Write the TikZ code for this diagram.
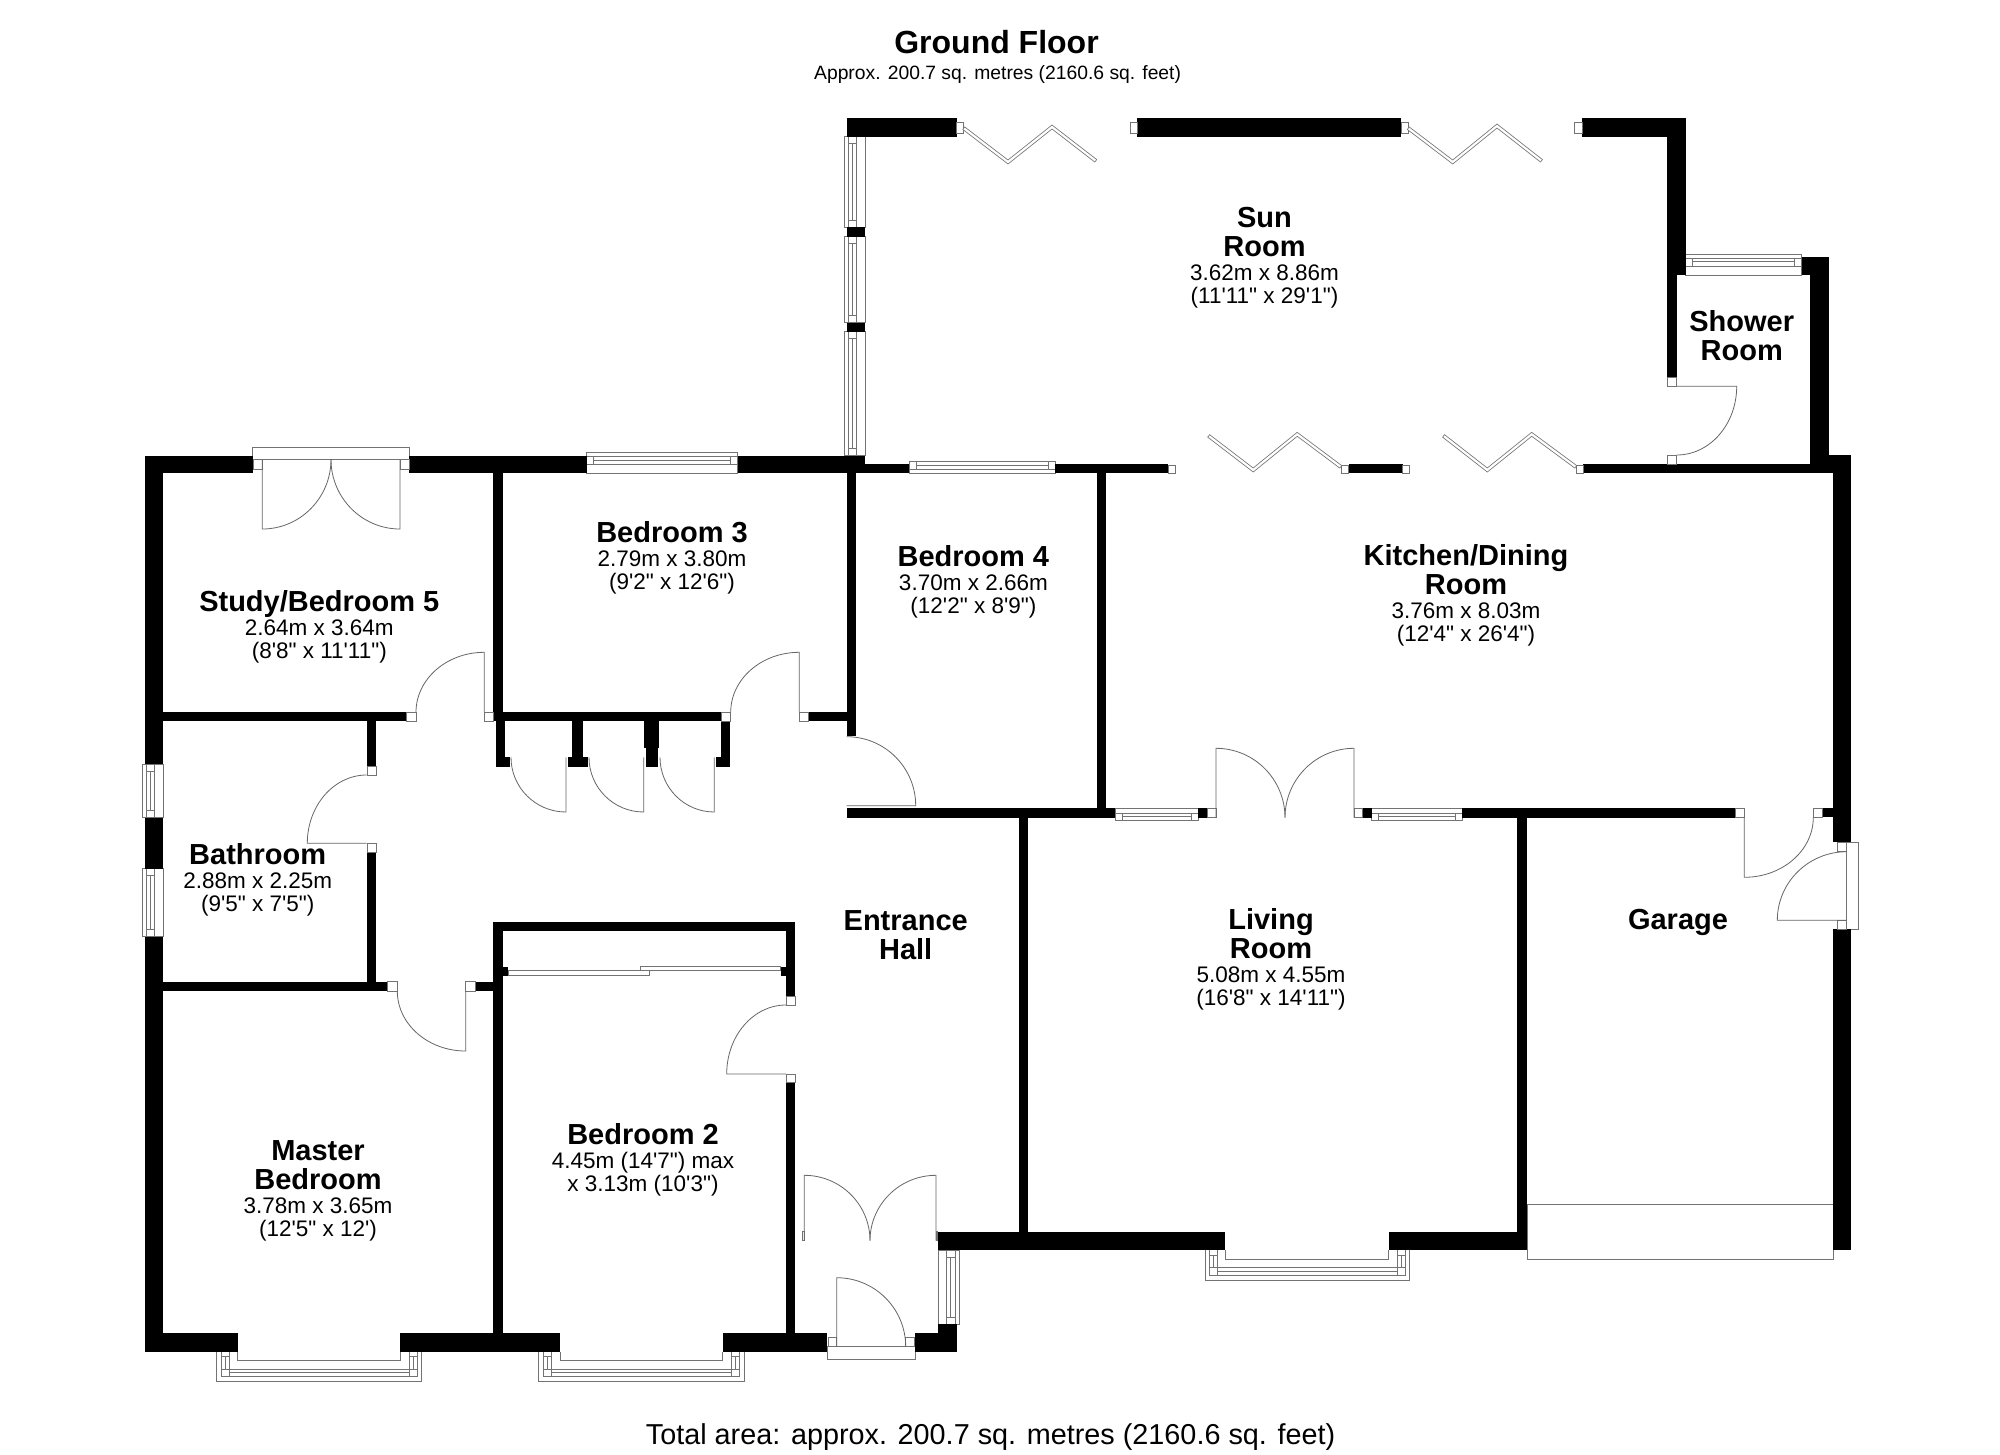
\documentclass[tikz,border=0pt]{standalone}
\usepackage{fontspec}
\usetikzlibrary{calc}
\newfontfamily\planfont{Liberation Sans}
\setlength{\lineskiplimit}{-100pt}
\newcommand\rmname[1]{{\fontsize{29}{23}\selectfont\bfseries #1}}
\newcommand\planswing[6]{\draw[doorline] (#1,#2) -- (#3,#4) .. controls ($(#3,#4)+0.5523*(#5,#6)-0.5523*(#1,#2)$) and ($(#5,#6)+0.5523*(#3,#4)-0.5523*(#1,#2)$) .. (#5,#6);}
\newcommand\planbifold[1]{\draw[bifoldout] #1; \draw[bifoldin] #1;}
% horizontal window: x1 x2 y0 y1 ym y2 y3
\newcommand\planhwin[7]{%
  \filldraw[glaze] (#1,#3) rectangle (#2,#7);
  \draw[glaze] (#1,#4) -- (#2,#4) (#1,#6) -- (#2,#6);
  \draw[glaze] ({#1+7},#4) -- ({#1+7},#6) ({#2-7},#4) -- ({#2-7},#6) ({#1+7},#5) -- ({#2-7},#5);}
% vertical window: y1 y2 x0 x1 xm x2 x3
\newcommand\planvwin[7]{%
  \filldraw[glaze] (#3,#1) rectangle (#7,#2);
  \draw[glaze] (#4,#1) -- (#4,#2) (#6,#1) -- (#6,#2);
  \draw[glaze] (#4,{#1+7}) -- (#6,{#1+7}) (#4,{#2-7}) -- (#6,{#2-7}) (#5,{#1+7}) -- (#5,{#2-7});}
% bay window: a b i j y
\newcommand\planbay[5]{%
  \draw[glaze] (#1,#5) -- (#1,{#5+30}) -- (#2,{#5+30}) -- (#2,#5);
  \draw[glaze] ({#1+4.5},#5) -- ({#1+4.5},{#5+25}) -- ({#2-4.5},{#5+25}) -- ({#2-4.5},#5);
  \draw[glaze] (#3,#5) -- (#3,{#5+9}) -- (#4,{#5+9}) -- (#4,#5);
  \draw[glaze] ({#1+4.5},{#5+17.6}) -- ({#2-4.5},{#5+17.6}) ({#1+12.5},{#5+21}) -- ({#2-12.5},{#5+21});
  \draw[glaze] ({#1+12.5},#5) -- ({#1+12.5},{#5+25}) ({#2-12.5},#5) -- ({#2-12.5},{#5+25});
  \draw[glaze] ({#1+4.5},{#5+5}) -- ({#1+12.5},{#5+5}) ({#2-12.5},{#5+5}) -- ({#2-4.5},{#5+5});
  \draw[glaze] ({#1+8.5},{#5+5}) -- ({#1+8.5},{#5+17.6}) ({#2-8.5},{#5+5}) -- ({#2-8.5},{#5+17.6});}
\tikzset{
  wallfill/.style={fill=black,draw=none},
  jambbox/.style={fill=white,draw=black!55,line width=0.8pt},
  glaze/.style={fill=white,draw=black!55,line width=0.8pt},
  doorline/.style={draw=black!60,line width=0.8pt,fill=none},
  bifoldout/.style={draw=black!55,line width=3.8pt},
  bifoldin/.style={draw=white,line width=2.2pt,shorten <=0.8pt,shorten >=0.8pt},
  room/.style={align=center,inner sep=0pt,text=black,
    font=\planfont\fontsize{22.5}{23}\selectfont},
}
\begin{document}
\begin{tikzpicture}[x=1pt,y=-1pt]
\useasboundingbox[fill=white] (0,0) rectangle (2000,1454);

% windows
\planvwin{136.7}{227.3}{844}{848.7}{852.5}{856.4}{865.2}
\planvwin{236.7}{322.7}{844}{848.7}{852.5}{856.4}{865.2}
\planvwin{331.7}{455.3}{844}{848.7}{852.5}{856.4}{865.2}
\planvwin{764}{817.7}{142}{146.7}{150}{154}{163.3}
\planvwin{868.7}{936.7}{142}{146.7}{150}{154}{163.3}
\planvwin{1250}{1324}{938.3}{946.7}{950}{955}{959.3}
\planhwin{586.7}{737.7}{452.3}{456.7}{460}{464}{473.3}
\planhwin{909.2}{1055.4}{461}{461}{465}{469}{473.3}
\planhwin{1685.7}{1801.7}{254}{258.3}{261.7}{266}{275}
\planhwin{1115}{1198.3}{808.3}{813.3}{816.7}{820}{820}
\planhwin{1371.7}{1462.3}{808.3}{813.3}{816.7}{820}{820}
\planbay{216.7}{421.7}{237.7}{400.3}{1351.7}
\planbay{538.7}{744.3}{560}{722.7}{1351.7}
\planbay{1204.9}{1409.6}{1225.3}{1388.5}{1250}

% door frames and garage door
\filldraw[jambbox] (1527,1204.3) rectangle (1833,1259.3);
\filldraw[jambbox] (252.7,447.7) rectangle (409,459.3);
\filldraw[jambbox] (827.3,1346.7) rectangle (915,1359.3);
\filldraw[jambbox] (1846.7,842.3) rectangle (1858.3,929.3);
\filldraw[jambbox] (802,1231.7) rectangle (804.3,1240.7);
\filldraw[jambbox] (936,1231.7) rectangle (937.7,1240.7);
\filldraw[jambbox] (508.3,970.7) rectangle (649,975.3);
\filldraw[jambbox] (640,966) rectangle (780.7,970.7);

% walls
\foreach \a/\b/\c/\d in {
  846.8/118.3/956.6/137, 1137/118.3/1401/137, 1582/118.3/1685.7/137,
  1667.3/118.3/1685.7/275, 1667.3/275/1676.7/377.3,
  846.8/227.3/865.2/236.7, 846.8/322.7/865.2/331.7,
  1801.7/256.7/1829/275, 1810.3/256.7/1829/464.3,
  1583/464.3/1851/473.3, 1810.3/455.3/1851/473.3,
  1832.7/455.3/1851/842.3, 1832.7/929.3/1851/1250, 1822.7/808.3/1832.7/817.3,
  145/455.7/253.3/473.3, 409/455.7/586.7/473.3, 737.7/455.7/865/473.3,
  865/464.3/909.2/473.3, 1055.4/464.3/1168.3/473.3, 1348.5/464.3/1402.5/473.3,
  145/455.7/163.3/764, 145/817.7/163.3/868.7, 145/936.7/163.3/1351.7,
  145/1333.3/237.7/1351.7, 400.3/1333.3/560/1351.7, 722.7/1333.3/827.3/1351.7,
  915/1333.3/956.7/1351.7, 938.3/1324/956.7/1333.3,
  163.3/712.3/406.7/721, 367/721/376.3/766, 367/852.7/376.3/981.7,
  163.3/981.7/387.7/991, 475/981.7/493.3/991,
  493.3/473.3/502.7/712.3,
  493.3/921.7/502.7/1333.3, 493.3/921.7/795.3/930.7, 786/921.7/795.3/996.7,
  786/1082.7/795.3/1333.3, 502.7/966.7/508.3/976, 780.7/966.7/786/976,
  493.3/712.3/721.7/721.3,
  495.7/721/505/766.7, 495.7/757.3/510/766.7,
  571.7/721/583.3/757.3, 567.7/757.3/587.7/766.7,
  644.3/721/659.3/748, 645.7/748/658/766.7,
  720.7/721/730/766.7, 716.3/757.3/730/766.7,
  808.3/712.3/846.7/721.3, 846.7/473/856/735.7, 1096.5/473/1106/808.3,
  846.7/808.3/1115/817.7, 1198.3/808.3/1207.3/817.7, 1362.7/808.3/1371.7/817.7,
  1462.3/808.3/1735.7/817.7,
  1019/817.7/1028.3/1232, 1517.3/817.3/1526.7/1232,
  938.3/1231.7/1225.3/1250, 1388.5/1231.7/1527/1250}
  {\path[wallfill] (\a,\b) rectangle (\c,\d);}

% jambs
\foreach \a/\b/\c/\d in {
  956.6/122.3/963.5/133.3, 1130/122.3/1137/133.3, 1401/122.3/1408/133.3, 1574/122.3/1582/133.3,
  1168.3/465/1175.5/473, 1341.2/465/1348.5/473, 1402.5/465/1409.8/473, 1576/465/1583/473,
  1667.3/377.3/1676.7/386.3, 1667.3/455/1676.7/464.3,
  367/766/376.3/775, 367/843.3/376.3/852.7,
  406.7/712.3/416/721, 484.3/712.3/493.3/721,
  387.7/981.7/397.3/991, 465.7/981.7/475/991,
  721.7/712.3/730.7/721.3, 799.3/712.3/808.3/721.3,
  1207.3/808.3/1216/817.7, 1354/808.3/1362.7/817.7,
  1735.7/808.3/1744.3/817.3, 1813.3/808.3/1822.7/817.3,
  1837.3/842.3/1846.7/851.7, 1837.3/920.3/1846.7/929.3,
  786/996.7/795.3/1005, 786/1074/795.3/1082.7,
  253.3/459.3/262.3/469.3, 400/459.3/409/469.3,
  828.3/1337.3/836.7/1346.7, 905.7/1337.3/914.3/1346.7}
  {\filldraw[jambbox] (\a,\b) rectangle (\c,\d);}

% swing doors
\planswing{1676.7}{386.3}{1736.7}{386.3}{1676.7}{455}
\planswing{1744.3}{817.3}{1744.3}{877.3}{1813.3}{817.3}
\planswing{1846.7}{920.3}{1777.3}{920.3}{1846.7}{851.7}
\planswing{366.7}{843.3}{307.3}{843.3}{366.7}{775}
\planswing{484.3}{712.3}{484.3}{652.3}{416}{712.3}
\planswing{465.7}{991}{465.7}{1051}{397.3}{991}
\planswing{799.3}{712.3}{799.3}{652.3}{730.7}{712.3}
\planswing{566}{757.3}{566}{812}{511}{757.3}
\planswing{643.7}{757.3}{643.7}{812}{589}{757.3}
\planswing{714.3}{757.3}{714.3}{812}{660}{757.3}
\planswing{846.7}{805.7}{915.7}{805.7}{846.7}{736.7}
\planswing{786}{1074}{726.7}{1074}{786}{1005}
\planswing{262.3}{459.3}{262.3}{529}{331}{459.3}
\planswing{400}{459.3}{400}{529}{331}{459.3}
\planswing{836.7}{1346.7}{836.7}{1277.7}{905.7}{1346.7}
\planswing{804.3}{1240.7}{804.3}{1175.3}{870}{1240.7}
\planswing{936}{1240.7}{936}{1175.3}{870}{1240.7}
\planswing{1216}{817.7}{1216}{748.3}{1285}{817.7}
\planswing{1354}{817.7}{1354}{748.3}{1285}{817.7}

% bifold doors
\planbifold{(963.5,128) -- (1008,162) -- (1052,127) -- (1096,161)}
\planbifold{(1408,128) -- (1452.7,162) -- (1497,126) -- (1541.7,161)}
\planbifold{(1341,467) -- (1297.2,434.3) -- (1253.2,470) -- (1208.4,435.7)}
\planbifold{(1576,467) -- (1531.7,434.3) -- (1487.3,470) -- (1443.3,435.7)}

% texts
\node[room] (title) at (996.5,42) {{\fontsize{32}{32}\selectfont\bfseries Ground Floor}};
\node[room,font=\planfont\fontsize{19.3}{23}\selectfont] (subtitle) at (997.6,75) {Approx. 200.7 sq. metres (2160.6 sq. feet)};
\node[room,font=\planfont\fontsize{28.8}{30}\selectfont] (total) at (990.6,1437.5) {Total area: approx. 200.7 sq. metres (2160.6 sq. feet)};
\node[room] (sun) at (1264.5,258) {\rmname{Sun}\\[6pt]\rmname{Room}\\[1pt]3.62m x 8.86m\\(11'11" x 29'1")};
\node[room] (shower) at (1741.7,336) {\rmname{Shower}\\[6pt]\rmname{Room}};
\node[room] (study) at (319.3,626.5) {\rmname{Study/Bedroom 5}\\[1pt]2.64m x 3.64m\\(8'8" x 11'11")};
\node[room] (bed3) at (672,557.5) {\rmname{Bedroom 3}\\[1pt]2.79m x 3.80m\\(9'2" x 12'6")};
\node[room] (bed4) at (973.4,581.5) {\rmname{Bedroom 4}\\[1pt]3.70m x 2.66m\\(12'2" x 8'9")};
\node[room] (kitchen) at (1466,595.5) {\rmname{Kitchen/Dining}\\[6pt]\rmname{Room}\\[1pt]3.76m x 8.03m\\(12'4" x 26'4")};
\node[room] (bath) at (257.7,880) {\rmname{Bathroom}\\[1pt]2.88m x 2.25m\\(9'5" x 7'5")};
\node[room] (hall) at (905.7,935) {\rmname{Entrance}\\[6pt]\rmname{Hall}};
\node[room] (living) at (1271,959.5) {\rmname{Living}\\[6pt]\rmname{Room}\\[1pt]5.08m x 4.55m\\(16'8" x 14'11")};
\node[room] (garage) at (1678,922) {\rmname{Garage}};
\node[room] (master) at (318,1191) {\rmname{Master}\\[6pt]\rmname{Bedroom}\\[1pt]3.78m x 3.65m\\(12'5" x 12')};
\node[room] (bed2) at (643,1160) {\rmname{Bedroom 2}\\[1pt]4.45m (14'7") max\\x 3.13m (10'3")};
\end{tikzpicture}
\end{document}
